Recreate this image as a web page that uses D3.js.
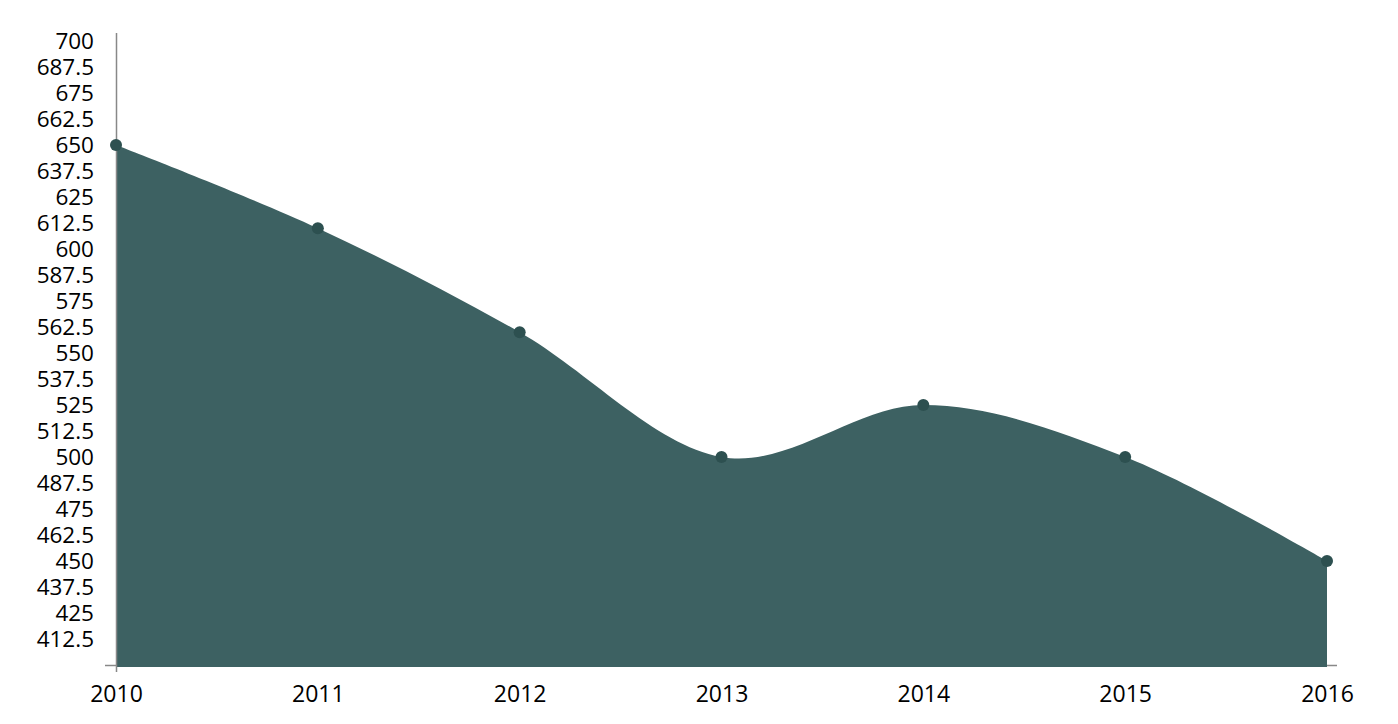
<!DOCTYPE html>
<html>
<head>
<meta charset="utf-8">
<script src="https://cdn.jsdelivr.net/npm/d3@7"></script>
<style>
  html, body { margin: 0; padding: 0; background: #fff; }
  svg { display: block; }
  text { font-family: "Open Sans", sans-serif; fill: #000; }
</style>
</head>
<body>
<svg id="chart" width="1398" height="724"></svg>
<script>
const years = [2010, 2011, 2012, 2013, 2014, 2015, 2016];
const values = [650, 610, 560, 500, 525, 500, 450];
const yTicks = [412.5, 425, 437.5, 450, 462.5, 475, 487.5, 500, 512.5, 525, 537.5, 550, 562.5, 575, 587.5, 600, 612.5, 625, 637.5, 650, 662.5, 675, 687.5, 700];
const yDomain = [400, 700];

(function () {
const svg = d3.select("#chart");
const mLeft = 116, mRight = 1327, mTop = 41, mBottom = 665;

const x = d3.scalePoint().domain(years).range([mLeft, mRight]);
const y = d3.scaleLinear().domain(yDomain).range([mBottom, mTop]);

const data = years.map((yr, i) => ({ year: yr, value: values[i] }));

const area = d3.area()
  .x(d => x(d.year))
  .y0(y(yDomain[0]) + 2)
  .y1(d => y(d.value))
  .curve(d3.curveCardinal);

// x axis line (mostly behind area)
svg.append("line")
  .attr("x1", mLeft).attr("x2", mRight + 10)
  .attr("y1", y(yDomain[0]) + 0.5).attr("y2", y(yDomain[0]) + 0.5)
  .attr("stroke", "#888").attr("stroke-width", 1.5);

svg.append("path")
  .datum(data)
  .attr("d", area)
  .attr("fill", "#3d6162");

// y axis
const yAxis = d3.axisLeft(y).tickValues(yTicks).tickSize(0).tickPadding(22)
  .tickFormat(d => String(d));
const gy = svg.append("g").attr("transform", `translate(${mLeft},0)`).call(yAxis);
gy.select(".domain").remove();
gy.selectAll("text").style("font-size", "22.5px").attr("fill", "#000");

svg.append("line")
  .attr("x1", mLeft + 0.5).attr("x2", mLeft + 0.5)
  .attr("y1", mTop - 8).attr("y2", y(yDomain[0]) + 7)
  .attr("stroke", "#888").attr("stroke-width", 1.5);
svg.append("line")
  .attr("x1", mLeft - 11).attr("x2", mLeft + 0.5)
  .attr("y1", y(yDomain[0]) + 0.5).attr("y2", y(yDomain[0]) + 0.5)
  .attr("stroke", "#888").attr("stroke-width", 1.5);

// x axis labels
const xAxis = d3.axisBottom(x).tickSize(0).tickPadding(21);
const gx = svg.append("g").attr("transform", `translate(0,${mBottom})`).call(xAxis);
gx.select(".domain").remove();
gx.selectAll("text").style("font-size", "23px").attr("fill", "#000");

// dots
svg.selectAll("circle.dot")
  .data(data)
  .join("circle")
  .attr("class", "dot")
  .attr("cx", d => x(d.year))
  .attr("cy", d => y(d.value))
  .attr("r", 6)
  .attr("fill", "#2d5050");
})();
</script>
</body>
</html>
